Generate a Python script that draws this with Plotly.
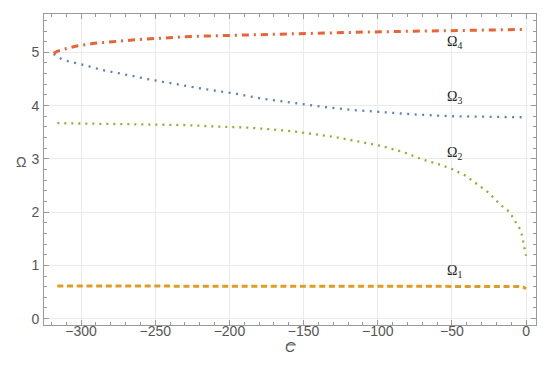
import plotly.graph_objects as go

# ---- data ----
c1 = [-316, -250, -200, -150, -100, -50, -20, -5, -2, 0]
om1 = [0.612, 0.612, 0.612, 0.612, 0.611, 0.610, 0.608, 0.604, 0.595, 0.56]

c2 = [-316, -300, -260, -230, -211, -190, -170, -157, -142, -127, -112, -98, -83,
      -70, -58, -50, -40.5, -32.6, -25, -17, -11, -7, -4, -3, -2, -1, 0]
om2 = [3.67, 3.665, 3.655, 3.635, 3.61, 3.59, 3.55, 3.515, 3.46, 3.40, 3.32, 3.245, 3.13,
       2.99, 2.89, 2.81, 2.68, 2.52, 2.36, 2.13, 2.0, 1.81, 1.68, 1.59, 1.46, 1.32, 1.18]

c3 = [-318.5, -316, -313, -310, -305, -300, -295, -286, -276, -266, -256, -247, -237,
      -227, -217, -207, -197, -178, -158, -138, -118, -99, -73, -50, -28, 0]
om3 = [4.97, 4.92, 4.87, 4.84, 4.81, 4.78, 4.74, 4.67, 4.62, 4.56, 4.50, 4.46, 4.41,
       4.36, 4.31, 4.27, 4.23, 4.13, 4.05, 3.98, 3.92, 3.88, 3.83, 3.80, 3.79, 3.78]

c4 = [-318.5, -316, -313, -308, -303, -291, -277, -264, -250, -238, -225, -211, -186,
      -162, -136, -110, -80, -50, -25, 0]
om4 = [4.98, 5.02, 5.05, 5.09, 5.12, 5.17, 5.21, 5.235, 5.26, 5.28, 5.30, 5.31, 5.33,
       5.35, 5.365, 5.38, 5.395, 5.41, 5.42, 5.43]

labels = ["Ω<sub>1</sub>", "Ω<sub>2</sub>", "Ω<sub>3</sub>", "Ω<sub>4</sub>"]
label_x = [-48, -48, -48, -48]
label_y = [0.89, 3.10, 4.16, 5.18]

x_ticks = [-300, -250, -200, -150, -100, -50, 0]
y_ticks = [0, 1, 2, 3, 4, 5]

# ---- figure ----
fig = go.Figure()
fig.add_trace(go.Scatter(x=c1, y=om1, mode="lines",
                         line=dict(color="#E19C24", width=3, dash="6px,3.7px")))
fig.add_trace(go.Scatter(x=c2, y=om2, mode="lines",
                         line=dict(color="#8FB032", width=2.3, dash="2px,5px")))
fig.add_trace(go.Scatter(x=c3, y=om3, mode="lines",
                         line=dict(color="#5E81B5", width=2.3, dash="2px,5.5px")))
fig.add_trace(go.Scatter(x=c4, y=om4, mode="lines",
                         line=dict(color="#EB6235", width=3, dash="7px,5px,2px,5px")))

for t, x, y in zip(labels, label_x, label_y):
    fig.add_annotation(x=x, y=y, text=t, showarrow=False,
                       font=dict(family="Liberation Serif", size=14, color="#222"))

fig.add_annotation(xref="paper", yref="paper", x=-0.061, y=0.525, text="Ω",
                   showarrow=False, font=dict(family="Liberation Sans", size=14, color="#555"))
fig.add_annotation(xref="paper", yref="paper", x=0.5, y=-0.104,
                   text="<i>C</i>",
                   showarrow=False, font=dict(family="Liberation Sans", size=14, color="#555"))
# overline of the C-bar axis title
fig.add_shape(type="line", xref="paper", yref="paper", x0=0.492, x1=0.512,
              y0=-0.064, y1=-0.064, line=dict(color="#555", width=1))

axis_common = dict(
    showline=True, linecolor="#9a9a9a", linewidth=1, mirror="ticks",
    ticks="inside", ticklen=5, tickcolor="#9a9a9a",
    showgrid=True, gridcolor="#ebebeb", gridwidth=1, zeroline=False,
    tickfont=dict(family="Liberation Sans", size=14, color="#555"),
)
fig.update_xaxes(range=[-325, 6.7], tickvals=x_ticks, ticklabelstandoff=-7,
                 minor=dict(ticks="inside", ticklen=3, dtick=10, tick0=0,
                            tickcolor="#9a9a9a", showgrid=False),
                 **axis_common)
fig.update_yaxes(range=[-0.12, 5.72], tickvals=y_ticks, ticklabelstandoff=1,
                 minor=dict(ticks="inside", ticklen=3, dtick=0.2, tick0=0,
                            tickcolor="#9a9a9a", showgrid=False),
                 **axis_common)
# page body has an 8px margin, so the figure is 8px smaller than the window
fig.update_layout(width=542, height=358, showlegend=False,
                  margin=dict(l=36, r=14, t=6, b=41),
                  plot_bgcolor="white", paper_bgcolor="white")
fig.write_html("out.html")
